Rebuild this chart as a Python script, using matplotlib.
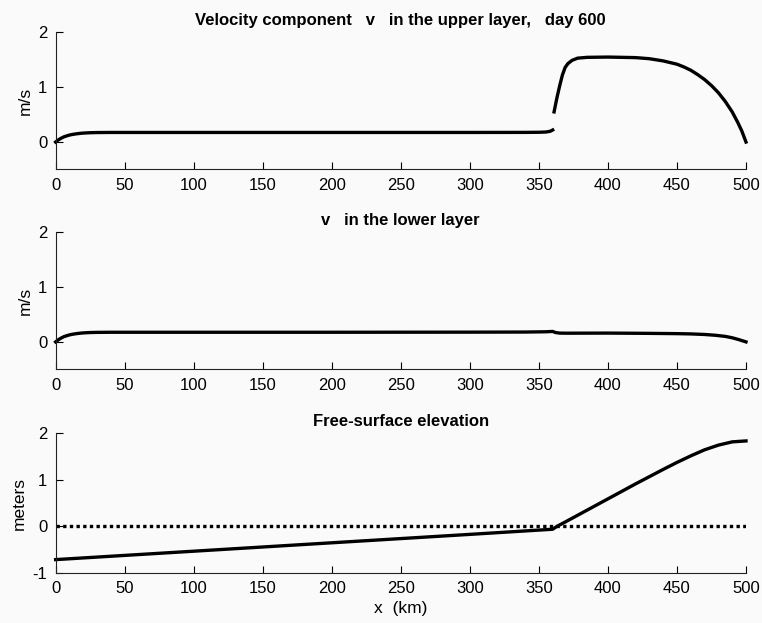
import matplotlib
matplotlib.use("Agg")
import matplotlib.pyplot as plt

plt.rcParams['font.family'] = ['Liberation Sans', 'DejaVu Sans']
plt.rcParams['axes.unicode_minus'] = False

# upper layer v, day 600 (two pieces, gap at the front near 360 km)
x_up_left = [0, 2, 4, 6, 8, 10, 12, 15, 18, 21, 25, 30, 40, 50, 100, 200, 300, 340, 350, 355, 358, 360]
v_up_left = [0, 0.04, 0.07, 0.095, 0.112, 0.127, 0.138, 0.15, 0.159, 0.165, 0.17, 0.173, 0.175,
             0.175, 0.175, 0.175, 0.175, 0.176, 0.178, 0.183, 0.195, 0.22]
x_up_right = [361, 363, 365, 367, 369, 371, 374, 378, 385, 400, 420, 430, 440, 450, 455, 460, 465,
              470, 475, 480, 485, 490, 494, 497, 500]
v_up_right = [0.55, 0.8, 1.02, 1.22, 1.36, 1.43, 1.49, 1.53, 1.545, 1.55, 1.54, 1.52, 1.48, 1.42,
              1.37, 1.31, 1.23, 1.14, 1.03, 0.90, 0.74, 0.55, 0.36, 0.2, 0.0]

# lower layer v
x_low = [0, 2, 4, 6, 8, 10, 12, 15, 18, 21, 25, 30, 40, 50, 100, 200, 300, 340, 355, 360, 362, 365,
         370, 400, 430, 450, 460, 470, 478, 485, 490, 495, 500]
v_low = [0, 0.04, 0.07, 0.095, 0.112, 0.127, 0.138, 0.15, 0.159, 0.165, 0.17, 0.173, 0.175, 0.175,
         0.175, 0.175, 0.177, 0.179, 0.184, 0.19, 0.17, 0.16, 0.158, 0.16, 0.155, 0.15, 0.145, 0.135,
         0.12, 0.10, 0.075, 0.04, 0.0]

# free surface elevation
x_eta = [0, 100, 200, 300, 360, 363, 370, 380, 400, 420, 440, 450, 460, 470, 480, 490, 500]
eta = [-0.71, -0.53, -0.35, -0.17, -0.06, 0.0, 0.11, 0.27, 0.59, 0.91, 1.22, 1.37, 1.51, 1.64, 1.74,
       1.81, 1.83]

x_ticks = [0, 50, 100, 150, 200, 250, 300, 350, 400, 450, 500]
bg = '#fafafa'


def style_axes(ax, yticks, ylim, ylabel, title):
    ax.set_facecolor(bg)
    ax.set_xlim(0, 500)
    ax.set_ylim(*ylim)
    ax.set_xticks(x_ticks)
    ax.set_yticks(yticks)
    ax.spines['top'].set_visible(False)
    ax.spines['right'].set_visible(False)
    ax.spines['left'].set_color('#222222')
    ax.spines['bottom'].set_color('#222222')
    ax.tick_params(direction='in', length=5, labelsize=12, pad=6)
    ax.set_ylabel(ylabel, fontsize=12.5, labelpad=4)
    ax.set_title(title, fontsize=12, fontweight='bold', pad=5)


fig = plt.figure(figsize=(7.62, 6.23), dpi=100, facecolor=bg)

ax1 = fig.add_axes([0.073, 0.728, 0.906, 0.220])
ax1.plot(x_up_left, v_up_left, color='black', lw=2.4, clip_on=False)
ax1.plot(x_up_right, v_up_right, color='black', lw=2.4, clip_on=False)
style_axes(ax1, [0, 1, 2], (-0.5, 2), 'm/s',
           'Velocity component   v   in the upper layer,   day 600')

ax2 = fig.add_axes([0.073, 0.407, 0.906, 0.221])
ax2.plot(x_low, v_low, color='black', lw=2.4, clip_on=False)
style_axes(ax2, [0, 1, 2], (-0.5, 2), 'm/s', 'v   in the lower layer')

ax3 = fig.add_axes([0.073, 0.080, 0.906, 0.225])
ax3.plot([0, 500], [0, 0], color='black', lw=2.4, linestyle=(0, (1, 1)))
ax3.plot(x_eta, eta, color='black', lw=2.4, clip_on=False)
style_axes(ax3, [-1, 0, 1, 2], (-1, 2), 'meters', 'Free-surface elevation')
ax3.set_xlabel('x  (km)', fontsize=12.5, labelpad=3)

plt.savefig('out.png', dpi=100, facecolor=bg)
